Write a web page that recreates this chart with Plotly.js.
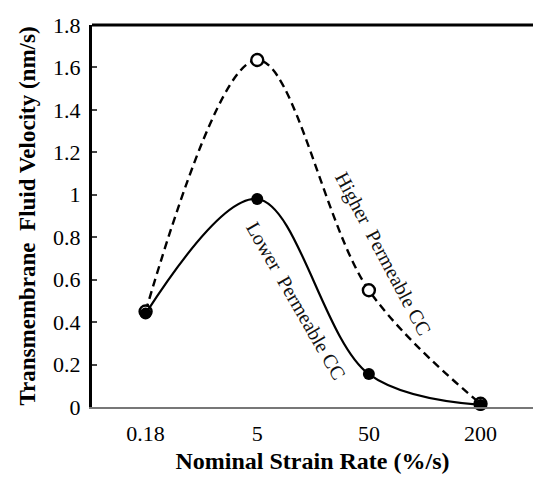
<!DOCTYPE html>
<html><head><meta charset="utf-8">
<script src="https://cdn.plot.ly/plotly-3.0.1.min.js"></script>
<style>html,body{margin:0;padding:0;background:#fff}#chart{width:533px;height:478px}</style>
</head><body><div id="chart"></div>
<script>
const categories = ["0.18", "5", "50", "200"];
const higherValues = [0.45, 1.635, 0.55, 0.015];
const lowerValues = [0.44, 0.98, 0.155, 0.01];
const yTicks = [0, 0.2, 0.4, 0.6, 0.8, 1, 1.2, 1.4, 1.6, 1.8];
const yTickText = ["0", "0.2", "0.4", "0.6", "0.8", "1", "1.2", "1.4", "1.6", "1.8"];

const font = "'Liberation Serif', 'Times New Roman', serif";
const traces = [
  {x: categories, y: higherValues, type: "scatter", mode: "lines+markers",
   line: {shape: "spline", smoothing: 1, color: "#000", width: 2.4, dash: "8px,5px"},
   marker: {size: 12, color: "#fff", line: {color: "#000", width: 2.4}}, cliponaxis: false},
  {x: categories, y: lowerValues, type: "scatter", mode: "lines+markers",
   line: {shape: "spline", smoothing: 1, color: "#000", width: 2.2},
   marker: {size: 12, color: "#000"}, cliponaxis: false}
];
const layout = {
  width: 533, height: 478,
  margin: {l: 92, r: 0, t: 25, b: 71},
  paper_bgcolor: "#fff", plot_bgcolor: "#fff",
  showlegend: false,
  font: {family: font, color: "#000", size: 22},
  xaxis: {type: "category", range: [-0.48, 3.47], showgrid: false, zeroline: false,
    showline: true, linecolor: "#777", linewidth: 1.5, ticks: "",
    tickfont: {family: font, size: 22}, ticklabelstandoff: 6,
    title: {text: "<b>Nominal Strain Rate (%/s)</b>", font: {family: font, size: 24}, standoff: 7}},
  yaxis: {range: [0, 1.8], tickvals: yTicks, ticktext: yTickText, showgrid: false, zeroline: false,
    showline: true, linecolor: "#000", linewidth: 3, ticks: "inside", ticklen: 5, tickwidth: 2,
    tickfont: {family: font, size: 22}, ticklabelstandoff: 4,
    title: {text: "<b>Transmembrane  Fluid Velocity (nm/s)</b>", font: {family: font, size: 23}, standoff: 12}},
  shapes: [{type: "line", xref: "paper", yref: "paper", x0: 0, x1: 1, y0: 1, y1: 1,
    line: {color: "#000", width: 3}}],
  annotations: [
    {text: "Higher  Permeable CC", x: 2.13, y: 0.72, xref: "x", yref: "y", showarrow: false,
     textangle: 62, font: {family: font, size: 20, color: "#111"}},
    {text: "Lower  Permeable CC", x: 1.35, y: 0.5, xref: "x", yref: "y", showarrow: false,
     textangle: 60, font: {family: font, size: 20, color: "#111"}}
  ]
};
Plotly.newPlot("chart", traces, layout, {displayModeBar: false, staticPlot: true});
</script></body></html>
